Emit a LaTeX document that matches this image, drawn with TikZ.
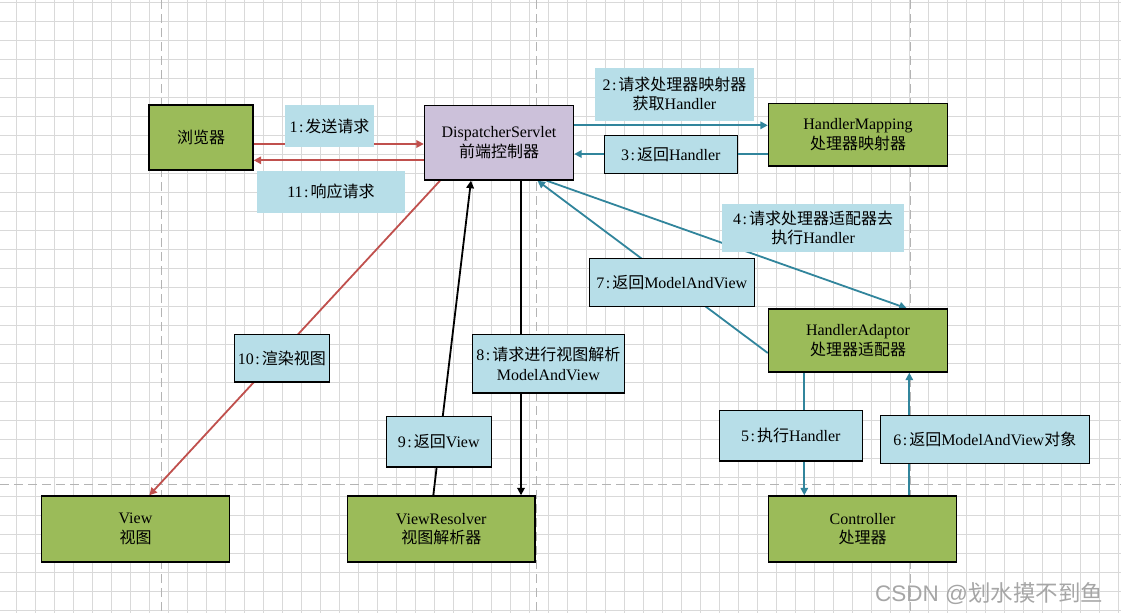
\documentclass[tikz,border=0pt]{standalone}
\usepackage{fontspec}
\setmainfont{Liberation Serif}
\newfontfamily\cjk{Noto Sans CJK SC}
\newfontfamily\wmsans{Liberation Sans}
\usetikzlibrary{arrows.meta}
\definecolor{boxgreen}{HTML}{9BBB59}
\definecolor{boxlav}{HTML}{CCC1DA}
\definecolor{lblue}{HTML}{B7DEE8}
\definecolor{redline}{HTML}{C0504D}
\definecolor{tealline}{HTML}{31859C}
\definecolor{gridgray}{HTML}{D9D9D9}
\definecolor{dashgray}{HTML}{B4B4B4}
\definecolor{wmgray}{HTML}{A6A6A6}
\newcommand{\cl}{\kern1.5pt:\kern2pt}
\newcommand{\zh}[1]{{\cjk #1}}
\newcommand{\en}[1]{{\rmfamily #1}}
\pgfdeclarelayer{gridlayer}
\pgfdeclarelayer{arrowlayer}
\pgfsetlayers{gridlayer,arrowlayer,main}
\tikzset{
  gridline/.style={draw=gridgray, line width=0.9pt},
  pagedash/.style={draw=dashgray, line width=1pt, dash pattern=on 9pt off 5pt},
  txt/.style={font=\fontsize{16}{19.5}\selectfont, align=center, inner sep=0pt},
  mainbox/.style={txt, draw=black, line width=1.4pt},
  greenbox/.style={mainbox, fill=boxgreen},
  lavbox/.style={mainbox, fill=boxlav},
  tagbox/.style={txt, fill=lblue},
  tagframe/.style={txt, fill=lblue, draw=black, line width=1.3pt},
  tip/.style={-{Triangle[length=7.5pt,width=7.5pt]}},
  redarrow/.style={tip, draw=redline, fill=redline, line width=1.8pt},
  tealarrow/.style={tip, draw=tealline, fill=tealline, line width=1.8pt},
  blackarrow/.style={tip, draw=black, fill=black, line width=1.8pt},
}
\begin{document}
\begin{tikzpicture}[x=1pt,y=-1pt]
\useasboundingbox (0,0) rectangle (1121,613);
\begin{pgfonlayer}{gridlayer}
  \fill[white] (0,0) rectangle (1121,613);
  \foreach \i in {0,...,58} \draw[gridline] (16+19*\i,0) -- (16+19*\i,613);
  \foreach \j in {0,...,32} \draw[gridline] (0,2.7+19*\j) -- (1121,2.7+19*\j);
  \draw[pagedash] (161.7,0) -- (161.7,613);
  \draw[pagedash] (536,0) -- (536,613);
  \draw[pagedash] (910.7,0) -- (910.7,613);
  \draw[pagedash] (0,484) -- (1121,484);
\end{pgfonlayer}

% main boxes
\node[greenbox, minimum width=104pt, minimum height=65pt] (br) at (201,137.5) {\zh{浏览器}};
\node[lavbox, minimum width=149pt, minimum height=74.5pt] (ds) at (499,142.75) {\en{DispatcherServlet}\\\zh{前端控制器}};
\node[greenbox, minimum width=179pt, minimum height=62.5pt] (hm) at (858,134.75) {\en{HandlerMapping}\\\zh{处理器映射器}};
\node[greenbox, minimum width=179pt, minimum height=63pt] (ha) at (858,340.5) {\en{HandlerAdaptor}\\\zh{处理器适配器}};
\node[greenbox, minimum width=188pt, minimum height=66pt] (ctl) at (862.5,529) {\en{Controller}\\\zh{处理器}};
\node[greenbox, minimum width=187.6pt, minimum height=66pt] (view) at (135.5,529) {\en{View}\\\zh{视图}};
\node[greenbox, minimum width=187.5pt, minimum height=66pt] (vr) at (441.25,529) {\en{ViewResolver}\\\zh{视图解析器}};

% labels
\node[tagbox, minimum width=89pt, minimum height=42pt] (l1) at (329.5,126) {1\cl\zh{发送请求}};
\node[tagbox, minimum width=148pt, minimum height=41.5pt] (l11) at (331,191.75) {11\cl\zh{响应请求}};
\node[tagbox, minimum width=159pt, minimum height=53.2pt] (l2) at (674.5,94.1) {2\cl\zh{请求处理器映射器}\\\zh{获取}\en{Handler}};
\node[tagframe, minimum width=133pt, minimum height=38pt] (l3) at (670.8,154.3) {3\cl\zh{返回}\en{Handler}};
\node[tagbox, minimum width=181.7pt, minimum height=47.4pt] (l4) at (813.15,228) {4\cl\zh{请求处理器适配器去}\\\zh{执行}\en{Handler}};
\node[tagframe, minimum width=165pt, minimum height=48pt] (l7) at (671.8,282.3) {7\cl\zh{返回}\en{ModelAndView}};
\node[tagframe, minimum width=143pt, minimum height=50.7pt] (l5) at (790.8,435.65) {5\cl\zh{执行}\en{Handler}};
\node[tagframe, minimum width=209pt, minimum height=48pt] (l6) at (984.8,439.3) {6\cl\zh{返回}\en{ModelAndView}\zh{对象}};
\node[tagframe, minimum width=152pt, minimum height=58.3pt] (l8) at (548.3,363.85) {8\cl\zh{请求进行视图解析}\\\en{ModelAndView}};
\node[tagframe, minimum width=105pt, minimum height=50.7pt] (l9) at (438.8,441.65) {9\cl\zh{返回}\en{View}};
\node[tagframe, minimum width=95pt, minimum height=47.7pt] (l10) at (281.8,358.15) {10\cl\zh{渲染视图}};

% watermark
\node[anchor=base west, inner sep=0pt, text=wmgray, font=\fontsize{22.5}{24}\selectfont] (wm) at (875,601) {\wmsans CSDN @\zh{划水摸不到鱼}};

% connectors
\begin{pgfonlayer}{arrowlayer}
  \draw[redarrow] (br.east |- 0,144) -- (ds.west |- 0,144);
  \draw[redarrow] (ds.west |- 0,160.3) -- (br.east |- 0,160.3);
  \draw[tealarrow] (ds.east |- 0,125.3) -- (hm.west |- 0,125.3);
  \draw[tealarrow] (hm.west |- 0,154) -- (ds.east |- 0,154);
  \draw[tealarrow] (ds.south -| 546.7,0) -- (ha.north -| 906.7,0);
  \draw[tealarrow] (ha.west |- 0,353) -- (ds.south -| 537.5,0);
  \draw[tealarrow] (ha.south -| 804.3,0) -- (ctl.north -| 804.3,0);
  \draw[tealarrow] (ctl.north -| 909.3,0) -- (ha.south -| 909.3,0);
  \draw[blackarrow] (ds.south -| 521,0) -- (vr.north -| 521,0);
  \draw[blackarrow] (vr.north -| 433.3,0) -- (ds.south -| 471,0);
  \draw[redarrow] (ds.south -| 440,0) -- (view.north -| 149.3,0);
\end{pgfonlayer}
\end{tikzpicture}
\end{document}
